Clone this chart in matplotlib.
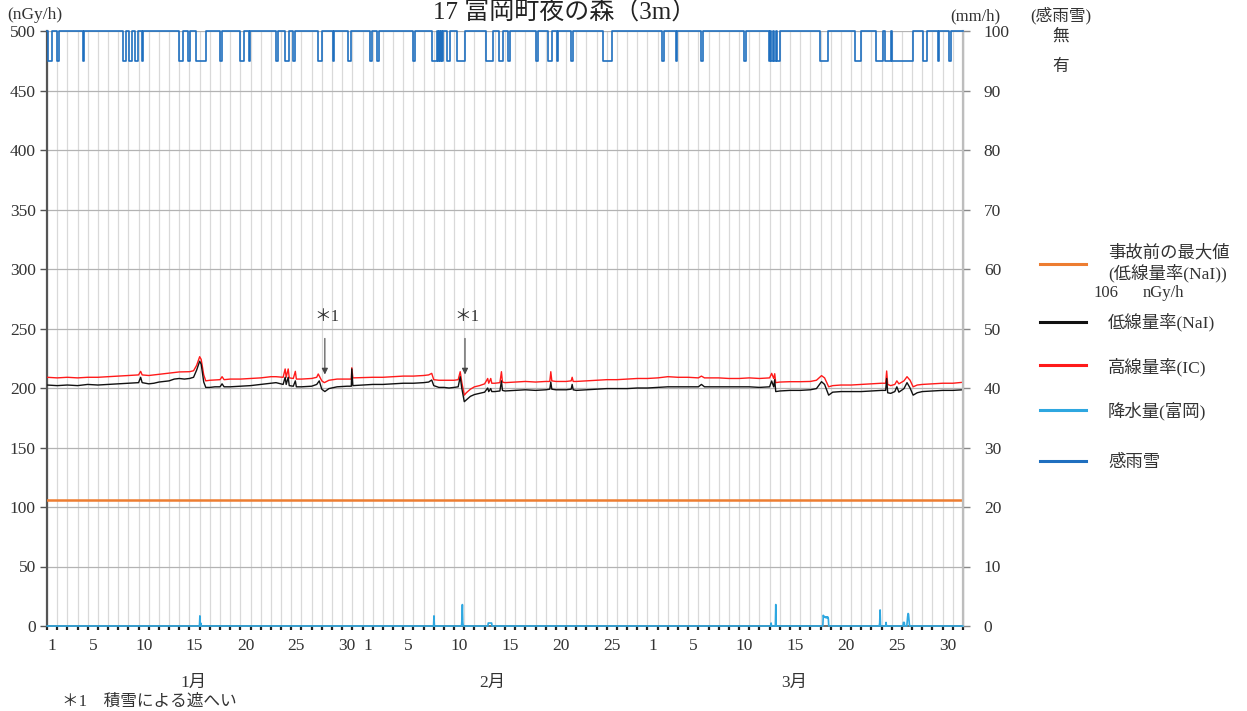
import matplotlib
matplotlib.use('Agg')
import matplotlib.pyplot as plt
from matplotlib.lines import Line2D
import numpy as np

plt.rcParams['font.family'] = ['Liberation Serif', 'Noto Sans CJK JP']

W, H = 1247, 711

# ---- data (time = day index from Jan 1 00:00) ----
nai_t = [0, 1, 2, 3, 4, 5, 6, 7, 8, 9, 9.2, 9.35, 10, 10.5, 11, 12, 12.5, 13, 13.5, 14, 14.4, 14.7, 15.0, 15.15,
         15.4, 15.6, 16, 16.5, 17.0, 17.2, 17.4, 18, 19, 20, 21, 22, 22.5, 23.2, 23.4, 23.5, 23.7, 23.8, 24.2, 24.4,
         24.5, 25, 26, 26.5, 26.75, 27.0, 27.3, 27.7, 28.5, 29.5, 29.9, 29.95, 30.05, 31,
         32, 33, 34, 35, 36, 37, 37.5, 37.8, 38.0, 38.5, 39, 39.5, 40, 40.4, 40.6, 40.75, 41.0, 41.2, 41.6, 42, 42.5,
         43, 43.3, 43.4, 43.6, 43.7, 44, 44.5, 44.65, 44.75, 45, 46, 47, 48, 49, 49.4, 49.5, 49.6, 50, 51, 51.5, 51.6,
         51.7, 52, 53, 54, 55, 56, 57, 58, 59,
         60, 61, 62, 63, 64, 64.3, 64.6, 65, 66, 67, 68, 69, 70, 71.0, 71.2, 71.4, 71.5, 71.6, 72, 73, 74, 75, 75.6,
         76.1, 76.4, 76.8, 77.2, 78, 79, 80, 81, 82, 82.4, 82.5, 82.6, 82.9, 83.3, 83.5, 83.7, 84.2, 84.5, 84.8, 85.1,
         85.5, 86, 87, 88, 89, 90]
nai_v = [202.5, 202, 202.5, 202, 203, 202.5, 203, 203.5, 204, 204.5, 209, 204.5, 203.5, 204, 205, 206, 207.5, 208,
         207.5, 208, 209, 215, 222.5, 220, 205, 200.5, 200.5, 201, 201, 203.5, 201, 201, 201.5, 202, 203, 204, 204.5,
         203, 209, 203, 209, 202, 201.5, 206, 201, 201, 201.5, 203, 206, 199, 197, 199.5, 201, 201.5, 201.5, 216, 202,
         202.5,
         203, 203, 203.5, 204, 204, 204.5, 205, 206.7, 202, 200.5, 200.5, 200, 200.5, 201, 209.5, 200, 188.5, 190,
         193, 194.5, 195.5, 196.5, 200, 197, 199.5, 197, 197, 197.5, 206, 198, 197.5, 198, 198.5, 198, 198.5, 199,
         205, 199, 198.5, 198.5, 199, 203, 198.5, 198, 198.5, 199, 199.5, 199.5, 199.5, 200, 200,
         200.5, 201, 201, 201, 201, 203, 201, 201, 201, 201, 201, 201, 200.5, 201, 205.9, 201, 207, 197, 197.5, 198,
         198, 198.5, 199.5, 205.3, 203, 194, 196.5, 197, 197, 197, 197.5, 198, 198, 208, 196, 195.5, 197, 201, 196.5,
         199.5, 204.5, 200, 194, 196, 197, 197.5, 198, 198, 198.5]

ic_t = [0, 1, 2, 3, 4, 5, 6, 7, 8, 9, 9.2, 9.35, 10, 11, 12, 12.5, 13, 14, 14.4, 14.7, 15.0, 15.15, 15.4, 15.6, 16,
        17.0, 17.2, 17.4, 18, 19, 20, 21, 22, 22.5, 23.2, 23.4, 23.5, 23.7, 23.8, 24.2, 24.4, 24.5, 25, 26, 26.5,
        26.65, 27.0, 27.25, 27.7, 28.5, 29.5, 29.9, 29.95, 30.05, 31,
        32, 33, 34, 35, 36, 37, 37.5, 37.8, 38.0, 38.5, 39, 40, 40.4, 40.6, 40.75, 41.0, 41.2, 41.6, 42, 42.5, 43,
        43.3, 43.4, 43.6, 43.7, 44, 44.5, 44.65, 44.75, 45, 46, 47, 48, 49, 49.4, 49.5, 49.6, 50, 51, 51.5, 51.6,
        51.7, 52, 53, 54, 55, 56, 57, 58, 59,
        60, 61, 62, 63, 64, 64.3, 64.6, 65, 66, 67, 68, 69, 70, 71.0, 71.2, 71.4, 71.5, 71.6, 72, 73, 74, 75, 75.6,
        76.1, 76.4, 76.8, 77.2, 78, 79, 80, 81, 82, 82.4, 82.5, 82.6, 82.9, 83.3, 83.5, 83.7, 84.2, 84.5, 84.8, 85.1,
        85.5, 86, 87, 88, 89, 90]
ic_v = [209, 208.5, 209, 208.5, 209, 209, 209.5, 210, 210.5, 211, 214, 211, 210.5, 211.5, 212.5, 213, 213.5, 213.7,
        214.5, 219, 226.3, 224, 211, 206, 206.5, 207, 209.5, 207, 207.5, 207.5, 208, 208.5, 209.5, 209.5, 209, 216,
        209, 216, 208.5, 208, 214, 207.5, 207.5, 208, 209, 211.8, 206, 204.5, 206.5, 207.5, 207.5, 207.5, 217, 208.5,
        208.7,
        209, 209, 209.5, 210, 210, 210.5, 211, 212.3, 207, 206.5, 206.5, 206.5, 207, 213.7, 205, 194, 196, 199, 201,
        202, 203.5, 208, 204, 208, 204, 204, 204.5, 213.7, 205, 204.5, 205, 205.5, 205, 205.5, 205.5, 213.7, 206,
        205.5, 205.5, 206, 209, 205.5, 205.5, 206, 206.5, 207, 207, 207.5, 208, 208,
        208.5, 209.5, 209, 209, 208.5, 210, 208.5, 208.5, 208.5, 208, 208, 208.5, 208, 208.5, 212.3, 208, 212, 204.5,
        205, 205.3, 205.3, 205.5, 206.5, 210.4, 208.5, 201, 202, 202.5, 202.5, 203, 203.5, 204, 204, 214.3, 203,
        202, 203, 206, 203.5, 206, 209.5, 206.5, 201, 202.5, 203, 203.5, 204, 204, 204.8]

# hourly precipitation (mm/h): non-zero hours only
rain_hour = [360, 362, 912, 978, 979, 980, 1040, 1041, 1042, 1043, 1044, 1045, 1046, 1047, 1048,
             1707, 1718, 1830, 1831, 1832, 1833, 1834, 1835, 1836, 1837, 1838, 1839, 1840, 1841, 1842,
             1963, 1964, 1978, 2019, 2020, 2021, 2028, 2029, 2030, 2031, 2032, 2033]
rain_mm = [1.7, 0.5, 1.7, 1.2, 3.6, 0.6, 0.5, 0.5, 0.5, 0.5, 0.5, 0.5, 0.5, 0.5, 0.5,
           0.5, 3.6, 1.8, 1.6, 1.5, 1.6, 1.5, 1.4, 1.5, 1.5, 1.4, 1.5, 1.3, 1.5, 1.2,
           0.5, 2.7, 0.6, 0.6, 0.6, 0.6, 0.8, 1.6, 2.1, 2.0, 1.2, 0.3]

# rain/snow detection: intervals with "有"
snow_start = [0.13, 1.0, 3.5, 7.5, 8.1, 8.65, 9.3, 13.0, 13.9, 14.6, 17.0, 19.0, 19.8, 22.5, 23.4, 24.2, 26.65,
              28.07, 29.6, 31.7, 32.4, 36.0, 37.85, 38.45, 38.6, 38.8, 39.3, 40.3, 43.1, 44.45, 45.3, 48.05, 49.25,
              50.1, 51.5, 54.65, 60.4, 61.8, 64.25, 68.5, 70.9, 71.1, 71.4, 71.7, 75.95, 79.4, 81.45, 82.3, 83.05,
              86.05, 87.5, 88.65]
snow_end = [0.46, 1.18, 3.6, 7.8, 8.4, 8.9, 9.4, 13.4, 14.05, 15.6, 17.2, 19.35, 19.95, 22.7, 23.8, 24.4, 27.0,
            28.2, 29.9, 31.9, 32.6, 36.2, 38.35, 38.55, 38.7, 38.9, 39.6, 41.1, 43.8, 44.8, 45.5, 48.2, 49.65,
            50.2, 51.65, 55.5, 60.6, 61.9, 64.5, 68.65, 71.0, 71.3, 71.6, 72.0, 76.75, 80.0, 82.1, 82.9, 85.1,
            86.45, 87.65, 88.8]
snow_none, snow_yes = 100, 95

pre_accident_max = 106

jan_days = [1, 5, 10, 15, 20, 25, 30]
feb_days = [1, 5, 10, 15, 20, 25]
mar_days = [1, 5, 10, 15, 20, 25, 30]
month_start = [0, 31, 59]
month_names = ['1月', '2月', '3月']
month_label_pos = [14.4, 43.8, 73.4]

# ---- figure ----
fig = plt.figure(figsize=(W / 100, H / 100), dpi=100)
ax = fig.add_axes([47 / W, 1 - 626 / H, 916 / W, 595 / H])
ax2 = ax.twinx()

ax.set_xlim(0, 90)
ax.set_ylim(0, 500)
ax2.set_ylim(0, 100)

# grid
ax.set_xticks(np.arange(0, 91, 1))
ax.set_yticks(np.arange(0, 501, 50))
ax.grid(axis='x', color='#d9d9d9', lw=0.9, zorder=0)
ax.grid(axis='y', color='#b3b3b3', lw=0.9, zorder=0)
ax.set_axisbelow(True)
ax.tick_params(axis='x', which='major', length=3, width=1.6, color='#222222', labelbottom=False, direction='out')

# day labels as minor ticks at day centres
pos, labs = [], []
for ms, days in zip(month_start, [jan_days, feb_days, mar_days]):
    for d in days:
        pos.append(ms + d - 0.5)
        labs.append(str(d))
ax.set_xticks(pos, minor=True)
ax.set_xticklabels(labs, minor=True)
ax.tick_params(axis='x', which='minor', length=0, pad=9, labelsize=12.5, labelcolor='#333333')

ax.tick_params(axis='y', length=5, width=1, color='#555555', pad=3, labelsize=12.5, labelcolor='#333333')
ax2.tick_params(axis='y', length=5, width=1, color='#888888', pad=10, labelsize=12.5, labelcolor='#333333')
ax2.set_yticks(np.arange(0, 101, 10))

for a in (ax, ax2):
    a.spines['top'].set_visible(False)
ax.spines['left'].set_color('#555555')
ax.spines['left'].set_linewidth(1.6)
ax.spines['bottom'].set_color('#555555')
ax.spines['bottom'].set_linewidth(1.2)
ax2.spines['right'].set_color('#bdbdbd')
ax2.spines['right'].set_linewidth(1.6)
ax2.spines['left'].set_visible(False)
ax2.spines['bottom'].set_visible(False)

# series
ax.plot([0, 90], [pre_accident_max, pre_accident_max], color='#ed7d31', lw=1.8, zorder=3)
ax.plot(ic_t, ic_v, color='#ff1a1a', lw=1.0, zorder=4)
ax.plot(nai_t, nai_v, color='#111111', lw=1.0, zorder=5)

rain = np.zeros(90 * 24)
rain[rain_hour] = rain_mm
hours = (np.arange(90 * 24) + 0.5) / 24.0
ax2.plot(hours, rain, color='#2ea7e0', lw=1.2, zorder=3, clip_on=False)

st_x, st_y = [0], [snow_none]
for s, e in zip(snow_start, snow_end):
    st_x += [s, s, e, e]
    st_y += [snow_none, snow_yes, snow_yes, snow_none]
st_x.append(90)
st_y.append(snow_none)
ax2.plot(st_x, st_y, color='#1f6fbf', lw=1.2, zorder=3, clip_on=False)

# annotations *1
for xa in (27.3, 41.07):
    ax.annotate('', xy=(xa, 209), xytext=(xa, 244),
                arrowprops=dict(arrowstyle='-|>', color='#444444', lw=0.8, mutation_scale=9))
    ax.text(xa + 0.2, 259.5, '＊1', ha='center', va='center', fontsize=12, color='#333333')

# month labels
for xm, name in zip(month_label_pos, month_names):
    ax.text(xm, -48, name, ha='center', va='center', fontsize=12.5, color='#333333', clip_on=False)


def ftext(x, y, s, **kw):
    kw.setdefault('fontsize', 12.5)
    kw.setdefault('color', '#333333')
    fig.text(x / W, 1 - y / H, s, **kw)


ftext(565, 12, '17 富岡町夜の森（3m）', ha='center', va='center', fontsize=18, color='#222222')
ftext(35, 15, '(nGy/h)', ha='center', va='center')
ftext(975, 16, '(mm/h)', ha='center', va='center', fontsize=12)
ftext(1061, 16, '(感雨雪)', ha='center', va='center', fontsize=12)
ftext(1061, 37, '無', ha='center', va='center', fontsize=12)
ftext(1061, 67, '有', ha='center', va='center', fontsize=12)
ftext(62, 702, '＊1　積雪による遮へい', ha='left', va='center', fontsize=12)

# legend
leg = [('#ed7d31', 264), ('#111111', 322), ('#ff1a1a', 365), ('#2ea7e0', 410), ('#1f6fbf', 461)]
for c, y in leg:
    fig.add_artist(Line2D([1040 / W, 1086 / W], [1 - y / H, 1 - y / H], color=c, lw=2.2))
ftext(1108, 253, '事故前の最大値', ha='left', va='center')
ftext(1108, 273, '(低線量率(NaI))', ha='left', va='center')
ftext(1093, 293, '106', ha='left', va='center', fontsize=12)
ftext(1143, 293, 'nGy/h', ha='left', va='center', fontsize=12)
ftext(1108, 322, '低線量率(NaI)', ha='left', va='center')
ftext(1108, 367, '高線量率(IC)', ha='left', va='center')
ftext(1108, 411, '降水量(富岡)', ha='left', va='center')
ftext(1108, 463, '感雨雪', ha='left', va='center')

fig.savefig('out.png', dpi=100)
